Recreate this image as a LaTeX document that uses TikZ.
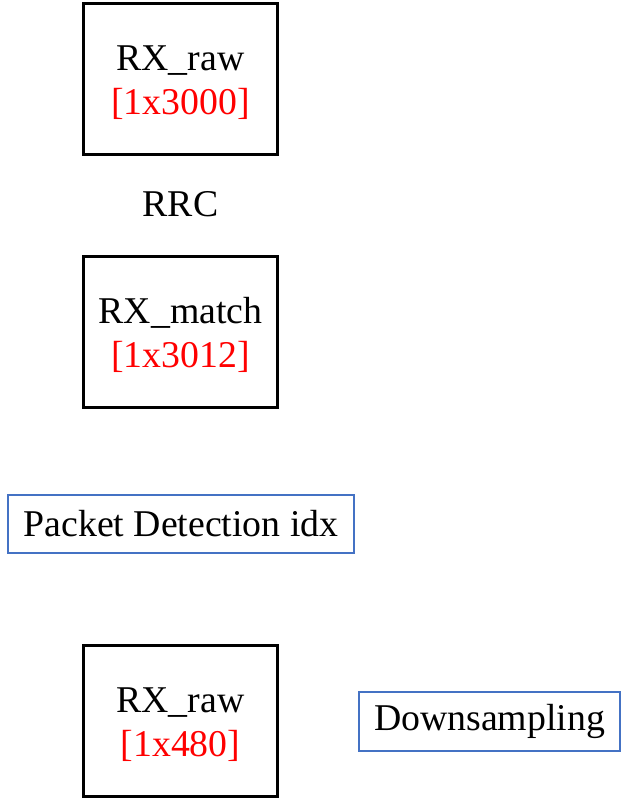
\documentclass[tikz,border=0pt]{standalone}
\usepackage{fontspec}
\setmainfont{Liberation Serif}
\usepackage{tikz}
\usepackage{color}
\definecolor{boxblue}{RGB}{68,114,196}

\begin{document}
\begin{tikzpicture}[x=1pt,y=-1pt,
				every node/.style={font=\fontsize{37.8}{44}\selectfont, inner sep=0pt, align=center},
				databox/.style={draw=black, line width=3pt, minimum width=194pt, minimum height=151pt, text height=77pt},
				opbox/.style={draw=boxblue, line width=1.3pt, minimum height=58pt}]
				\useasboundingbox (0,0) rectangle (625,800);
				\node [databox] (rxraw) at (180.5,79) {RX\_raw\\\textcolor{red}{[1x3000]}};
				\node (rrc) at (180.5,204) {RRC};
				\node [databox] (rxmatch) at (180.5,332) {RX\_match\\\textcolor{red}{[1x3012]}};
				\node [opbox, minimum width=346pt] (pktdet) at (181,524) {Packet Detection idx};
				\node [databox] (rxdown) at (180.5,721) {RX\_raw\\\textcolor{red}{[1x480]}};
				\node [opbox, minimum width=261pt, minimum height=59pt] (downs) at (489.5,721.5) {Downsampling};
\end{tikzpicture}
\end{document}
